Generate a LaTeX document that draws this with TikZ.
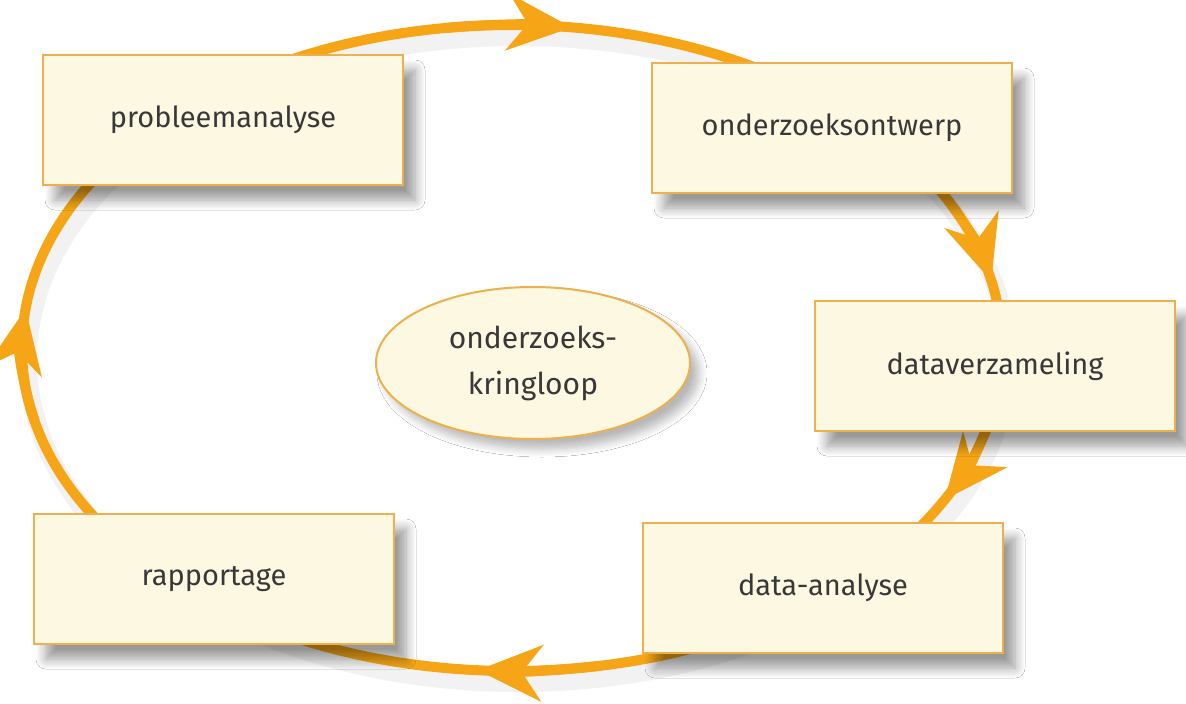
\documentclass[tikz,border=0pt]{standalone}
\usepackage{fontspec}
\setmainfont{Fira Sans}
\usetikzlibrary{arrows.meta,shadows.blur,calc,shapes.geometric}
\definecolor{ringc}{HTML}{F5A516}
\definecolor{boxfill}{HTML}{FDF8E2}
\definecolor{boxline}{HTML}{EDB04C}
\definecolor{txt}{HTML}{383838}
\begin{document}
\begin{tikzpicture}[x=1pt,y=-1pt,
  ringline/.style={draw=ringc, line width=10pt},
  headtip/.style={ringline, -{Stealth[length=64pt,width=56pt,inset=20pt]}},
  stage/.style={draw=boxline, line width=2.5pt, fill=boxfill, minimum width=360pt, minimum height=130pt,
    inner sep=0pt, font=\fontsize{29}{34}\selectfont, text=txt,
    blur shadow={shadow xshift=12pt, shadow yshift=-15pt, shadow blur radius=10pt, shadow blur steps=10, shadow opacity=40}},
  hub/.style={ellipse, draw=boxline, line width=2pt, fill=boxfill, minimum width=314pt, minimum height=152pt,
    inner sep=0pt, align=center, font=\fontsize{30}{46}\selectfont, text=txt,
    blur shadow={shadow xshift=9pt, shadow yshift=-10pt, shadow blur radius=8pt, shadow blur steps=8, shadow opacity=28}}
]
\useasboundingbox (0,0) rectangle (1186,704);
\fill[white] (0,0) rectangle (1186,704);
\coordinate (c) at (512,348);
% ring shadow
\draw[gray, line width=18pt, opacity=0.10] ($(c)+(6,12)$) ellipse [x radius=490, y radius=323];
% ring
\draw[ringline] (c) ellipse [x radius=490, y radius=323];
% arrow heads
\draw[headtip] (c) ++(262:490 and 323) arc[start angle=262, end angle=277, x radius=490, y radius=323];
\draw[headtip] (c) ++(333:490 and 323) arc[start angle=333, end angle=348, x radius=490, y radius=323];
\draw[headtip] (c) ++(13:490 and 323) arc[start angle=13, end angle=28, x radius=490, y radius=323];
\draw[headtip] (c) ++(80:490 and 323) arc[start angle=80, end angle=94, x radius=490, y radius=323];
\draw[headtip] (c) ++(167:490 and 323) arc[start angle=167, end angle=187, x radius=490, y radius=323];
% stages
\node[stage] (p1) at (223,120) {probleemanalyse};
\node[stage] (p2) at (832,128) {onderzoeksontwerp};
\node[stage] (p3) at (995,366) {dataverzameling};
\node[stage] (p4) at (823,588) {data-analyse};
\node[stage] (p5) at (214,579) {rapportage};
\node[hub] (k) at (533,363) {onderzoeks-\\kringloop};
\end{tikzpicture}
\end{document}
